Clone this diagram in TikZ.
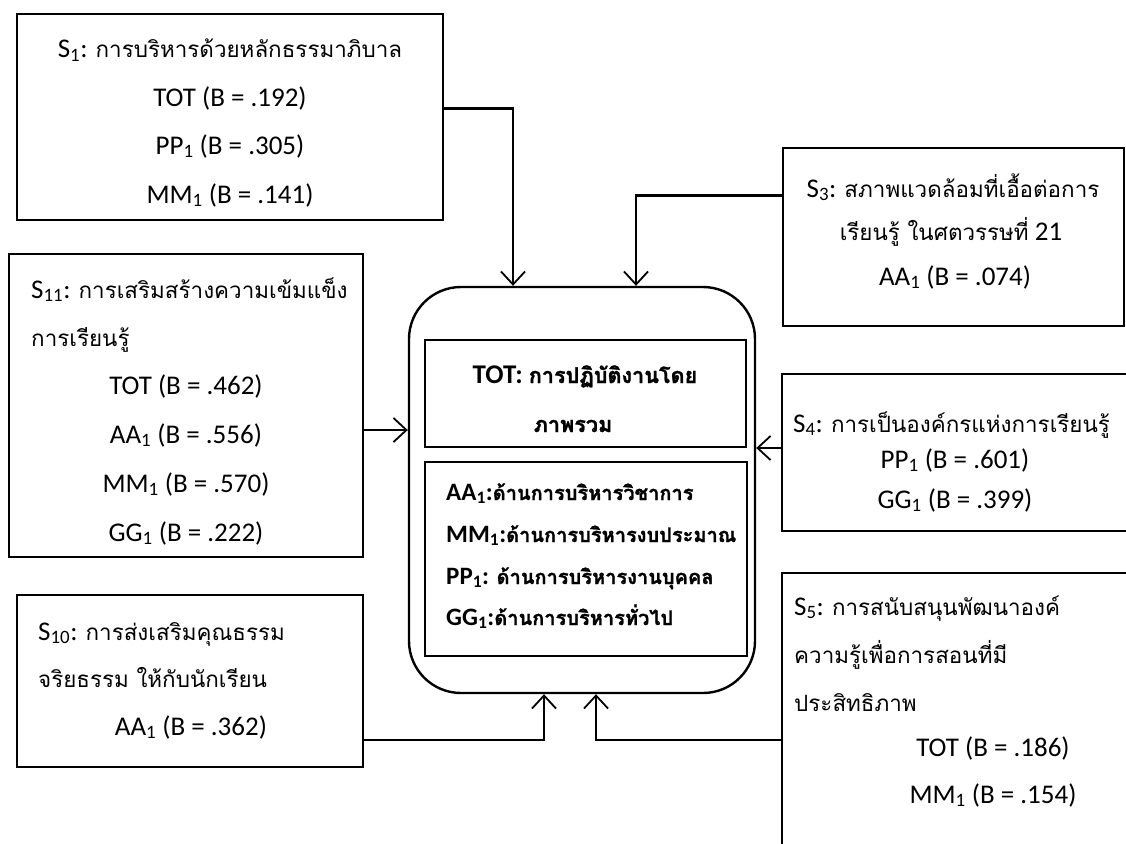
\documentclass[tikz,border=0pt]{standalone}
\usepackage{fontspec}
\setmainfont{Carlito}
\newfontfamily\thaifont[Script=Thai,Scale=0.83]{Loma}
\newfontfamily\thaiboldfont[Script=Thai,Scale=0.8,FakeBold=1.3]{Loma}
\newcommand\tht[1]{{\thaifont #1}}
\newcommand\thtb[1]{{\thaiboldfont #1}}
\newcommand\sbs[1]{\textsubscript{#1}}
\usetikzlibrary{arrows.meta}
\tikzset{
  boxnode/.style={draw=black, line width=2.4pt, inner sep=0pt, fill=none},
  txt/.style={inner sep=0pt, font=\fontsize{27}{32}\selectfont, anchor=base},
  txtl/.style={txt, anchor=base west},
  btxt/.style={txt, font=\fontsize{25}{30}\selectfont\bfseries},
  bigbtxt/.style={txt, font=\fontsize{27}{32}\selectfont\bfseries},
  btxtl/.style={btxt, anchor=base west},
  conn/.style={line width=1.8pt},
  heavy/.style={line width=3pt},
  arr/.style={line width=1.8pt, -{Straight Barb[length=13pt,width=24pt,line width=1.8pt]}}
}
\begin{document}
\begin{tikzpicture}[x=1pt,y=-1pt]
\clip (0,0) rectangle (1126,843);
\fill[white] (0,0) rectangle (1126,843);
% boxes
\node[boxnode, minimum width=426pt, minimum height=206pt] (s1) at (230,117) {};
\node[boxnode, minimum width=354pt, minimum height=303pt] (s11) at (186,405.5) {};
\node[boxnode, minimum width=346pt, minimum height=172pt] (s10) at (190,681) {};
\node[boxnode, rounded corners=52pt, minimum width=346pt, minimum height=406pt] (ctr) at (582,490) {};
\node[boxnode, minimum width=321pt, minimum height=107pt] (tot) at (585.5,393.5) {};
\node[boxnode, minimum width=322pt, minimum height=194pt] (dims) at (586,559) {};
\node[boxnode, minimum width=341pt, minimum height=178pt] (s3) at (953.5,237) {};
\node[boxnode, minimum width=358pt, minimum height=157pt] (s4) at (961,452.5) {};
\node[boxnode, minimum width=358pt, minimum height=297pt] (s5) at (961,721.5) {};
% entry points on the central box
\coordinate (in1) at ([xshift=-69pt]ctr.north);
\coordinate (in3) at ([xshift=54pt]ctr.north);
\coordinate (in10) at ([xshift=-38pt]ctr.south);
\coordinate (in5) at ([xshift=14pt]ctr.south);
% exit points on the outer boxes
\coordinate (o1) at ([yshift=9pt]s1.east);
\coordinate (o3) at ([yshift=42pt]s3.west);
\coordinate (o11) at ([yshift=-24.5pt]s11.east);
\coordinate (o4) at ([yshift=4.5pt]s4.west);
\coordinate (o10) at ([yshift=-59pt]s10.east);
\coordinate (o5) at ([yshift=-18.5pt]s5.west);
% connectors
\draw[heavy] (o1) -- (o1 -| in1);
\draw[arr] ([yshift=1.5pt]o1 -| in1) -- (in1);
\draw[heavy] (o3) -- (o3 -| in3);
\draw[arr] ([yshift=1.5pt]o3 -| in3) -- (in3);
\draw[arr] (o11) -- (o11 -| ctr.west);
\draw[arr] (o4) -- (o4 -| ctr.east);
\draw[conn] (o10) -- (o10 -| in10);
\draw[arr] ([yshift=-0.9pt]o10 -| in10) -- (in10);
\draw[conn] (o5) -- (o5 -| in5);
\draw[arr] ([yshift=-0.9pt]o5 -| in5) -- (in5);
% S1 text
\node[txt] (s1a) at (230,58) {S\sbs{1}: \tht{การบริหารด้วยหลักธรรมาภิบาล}};
\node[txt] (s1b) at (230,106) {TOT (B = .192)};
\node[txt] (s1c) at (230,154) {PP\sbs{1} (B = .305)};
\node[txt] (s1d) at (230,203) {MM\sbs{1} (B = .141)};
% S11 text
\node[txtl] (s11a) at (31,298) {S\sbs{11}: \tht{การเสริมสร้างความเข้มแข็ง}};
\node[txtl] (s11b) at (31,346) {\tht{การเรียนรู้}};
\node[txt] (s11c) at (186,394) {TOT (B = .462)};
\node[txt] (s11d) at (186,443) {AA\sbs{1} (B = .556)};
\node[txt] (s11e) at (186,492) {MM\sbs{1} (B = .570)};
\node[txt] (s11f) at (186,541) {GG\sbs{1} (B = .222)};
% S10 text
\node[txtl] (s10a) at (38,640) {S\sbs{10}: \tht{การส่งเสริมคุณธรรม}};
\node[txtl] (s10b) at (38,687) {\tht{จริยธรรม ให้กับนักเรียน}};
\node[txt] (s10c) at (191,735) {AA\sbs{1} (B = .362)};
% central text
\node[bigbtxt] (ta) at (585,383) {TOT: \thtb{การปฏิบัติงานโดย}};
\node[bigbtxt] (tb) at (573,432) {\thtb{ภาพรวม}};
\node[btxtl] (da) at (446,500) {AA\sbs{1}:\thtb{ด้านการบริหารวิชาการ}};
\node[btxtl] (db) at (446,542) {MM\sbs{1}:\thtb{ด้านการบริหารงบประมาณ}};
\node[btxtl] (dc) at (446,584) {PP\sbs{1}: \thtb{ด้านการบริหารงานบุคคล}};
\node[btxtl] (dd) at (446,625) {GG\sbs{1}:\thtb{ด้านการบริหารทั่วไป}};
% S3 text
\node[txt] (s3a) at (953,197) {S\sbs{3}: \tht{สภาพแวดล้อมที่เอื้อต่อการ}};
\node[txt] (s3b) at (951,240) {\tht{เรียนรู้ ในศตวรรษที่} 21};
\node[txt] (s3c) at (955,285) {AA\sbs{1} (B = .074)};
% S4 text
\node[txtl] (s4a) at (793,432) {S\sbs{4}: \tht{การเป็นองค์กรแห่งการเรียนรู้}};
\node[txt] (s4b) at (955,468) {PP\sbs{1} (B = .601)};
\node[txt] (s4c) at (955,508) {GG\sbs{1} (B = .399)};
% S5 text
\node[txtl] (s5a) at (794,615) {S\sbs{5}: \tht{การสนับสนุนพัฒนาองค์}};
\node[txtl] (s5b) at (794,663) {\tht{ความรู้เพื่อการสอนที่มี}};
\node[txtl] (s5c) at (794,711) {\tht{ประสิทธิภาพ}};
\node[txt] (s5d) at (993,756) {TOT (B = .186)};
\node[txt] (s5e) at (993,803) {MM\sbs{1} (B = .154)};
\end{tikzpicture}
\end{document}
